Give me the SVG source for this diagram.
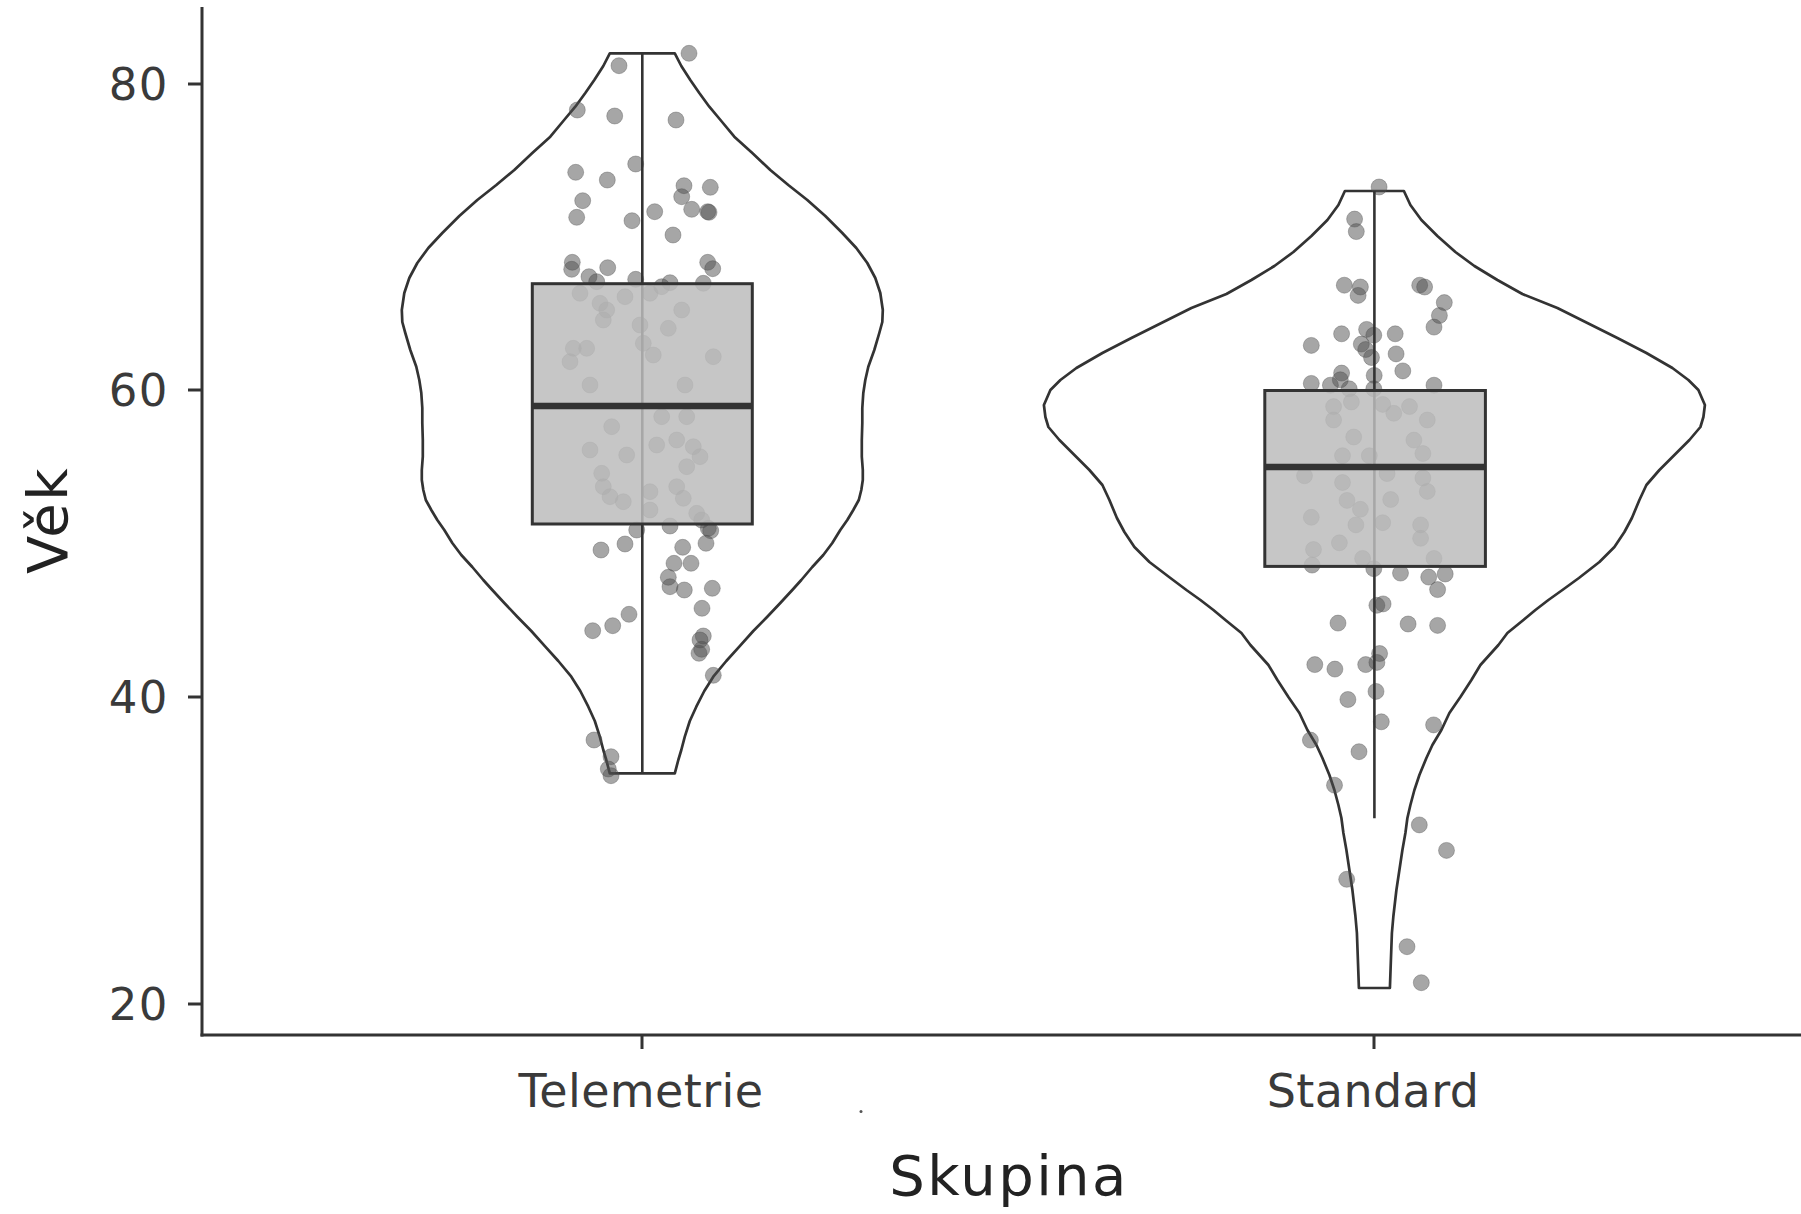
<svg xmlns="http://www.w3.org/2000/svg" width="1801" height="1214" viewBox="0 0 1801 1214">
<style>
.bg{fill:#ffffff}
.axis{stroke:#333;stroke-width:3;fill:none}
.violin{fill:#ffffff;stroke:#333;stroke-width:2.7;stroke-linejoin:round}
.whisk{stroke:#333;stroke-width:2.6}
.box{fill:#bcbcbc;fill-opacity:0.85;stroke:#333;stroke-width:3}
.median{stroke:#333;stroke-width:6.5}
.pt{fill:#4d4d4d;fill-opacity:0.5;stroke:#4d4d4d;stroke-opacity:0.35;stroke-width:1}
.tick{font-family:"DejaVu Sans","Liberation Sans",sans-serif;font-size:46px;letter-spacing:0.4px;fill:#3a3a3a}
.ytick{font-family:"DejaVu Sans","Liberation Sans",sans-serif;font-size:45px;letter-spacing:1.5px;fill:#3a3a3a}
.title{font-family:"DejaVu Sans","Liberation Sans",sans-serif;font-size:56px;letter-spacing:2.4px;fill:#222}
</style>
<rect class="bg" x="0" y="0" width="1801" height="1214"/>

<g id="axes">
<line class="axis" x1="202" y1="7" x2="202" y2="1036.5"/>
<line class="axis" x1="200.5" y1="1035" x2="1801" y2="1035"/>
<line class="axis" x1="188" y1="84" x2="202" y2="84"/>
<line class="axis" x1="188" y1="390" x2="202" y2="390"/>
<line class="axis" x1="188" y1="697" x2="202" y2="697"/>
<line class="axis" x1="188" y1="1004" x2="202" y2="1004"/>
<line class="axis" x1="642" y1="1035" x2="642" y2="1049"/>
<line class="axis" x1="1374" y1="1035" x2="1374" y2="1049"/>
<text class="ytick" x="169" y="100" text-anchor="end">80</text>
<text class="ytick" x="169" y="406" text-anchor="end">60</text>
<text class="ytick" x="169" y="713" text-anchor="end">40</text>
<text class="ytick" x="169" y="1020" text-anchor="end">20</text>
<text class="tick" x="641" y="1107" text-anchor="middle">Telemetrie</text>
<text class="tick" x="1373" y="1107" text-anchor="middle">Standard</text>
<text class="title" x="1009" y="1195" text-anchor="middle">Skupina</text>
<text class="title" transform="translate(67,520) rotate(-90)" text-anchor="middle">Věk</text>
<circle cx="861" cy="1111.5" r="1.5" fill="#555"/>
</g>

<g id="telemetrie">
<path class="violin" d="M609.8,53.3 L674.8,53.3 L681.3,66 L690.3,80 L699.3,93 L709.3,106.7 L721.3,121 L734.3,136.7 L752.3,153 L770.3,170 L788.3,185 L807.3,200 L825.3,216 L842.3,233 L856.3,248 L867.3,263 L875.3,278 L880.3,293 L882.8,310 L882.3,322 L879.3,333 L874.3,350 L868.3,366.7 L865.3,380 L863.3,393 L862.3,408 L862.3,423 L861.8,440 L861.8,456.7 L862.8,470 L862.8,480 L861.3,490 L858.8,500 L853.3,510 L847.3,520 L840.3,530 L832.3,543 L823.3,555 L812.3,567 L801.3,580 L792.3,590 L780.3,603 L767.3,616.7 L753.3,631 L739.3,646.7 L726.3,661 L713.3,676.7 L704.3,691 L696.3,706.7 L689.8,721 L684.8,736.7 L681.3,750 L678.3,760 L674.8,773.3 L609.8,773.3 L606.3,760 L603.3,750 L599.8,736.7 L594.8,721 L588.3,706.7 L580.3,691 L571.3,676.7 L558.3,661 L545.3,646.7 L531.3,631 L517.3,616.7 L504.3,603 L492.3,590 L483.3,580 L472.3,567 L461.3,555 L452.3,543 L444.3,530 L437.3,520 L431.3,510 L425.8,500 L423.3,490 L421.8,480 L421.8,470 L422.8,456.7 L422.8,440 L422.3,423 L422.3,408 L421.3,393 L419.3,380 L416.3,366.7 L410.3,350 L405.3,333 L402.3,322 L401.8,310 L404.3,293 L409.3,278 L417.3,263 L428.3,248 L442.3,233 L459.3,216 L477.3,200 L496.3,185 L514.3,170 L532.3,153 L550.3,136.7 L563.3,121 L575.3,106.7 L585.3,93 L594.3,80 L603.3,66 Z"/>
<g>
<circle class="pt" cx="689" cy="53.3" r="8"/>
<circle class="pt" cx="619" cy="65.7" r="8"/>
<circle class="pt" cx="577.3" cy="110" r="8"/>
<circle class="pt" cx="614.7" cy="116" r="8"/>
<circle class="pt" cx="676" cy="120" r="8"/>
<circle class="pt" cx="635.7" cy="164" r="8"/>
<circle class="pt" cx="575.7" cy="172.3" r="8"/>
<circle class="pt" cx="607.3" cy="180" r="8"/>
<circle class="pt" cx="684" cy="185.7" r="8"/>
<circle class="pt" cx="710.3" cy="187.3" r="8"/>
<circle class="pt" cx="681.7" cy="196.7" r="8"/>
<circle class="pt" cx="582.7" cy="200.7" r="8"/>
<circle class="pt" cx="654.7" cy="211.7" r="8"/>
<circle class="pt" cx="691.7" cy="209.3" r="8"/>
<circle class="pt" cx="709" cy="212.3" r="8"/>
<circle class="pt" cx="707.7" cy="211.7" r="8"/>
<circle class="pt" cx="576.7" cy="217.3" r="8"/>
<circle class="pt" cx="632" cy="220.7" r="8"/>
<circle class="pt" cx="673" cy="235" r="8"/>
<circle class="pt" cx="572.3" cy="262.3" r="8"/>
<circle class="pt" cx="571.7" cy="269.3" r="8"/>
<circle class="pt" cx="607.7" cy="267.7" r="8"/>
<circle class="pt" cx="707.7" cy="262.3" r="8"/>
<circle class="pt" cx="712.7" cy="268.7" r="8"/>
<circle class="pt" cx="589" cy="276.7" r="8"/>
<circle class="pt" cx="596.7" cy="281.7" r="8"/>
<circle class="pt" cx="635.7" cy="279.3" r="8"/>
<circle class="pt" cx="670" cy="282.7" r="8"/>
<circle class="pt" cx="703.3" cy="283.3" r="8"/>
<circle class="pt" cx="580" cy="293.3" r="8"/>
<circle class="pt" cx="600" cy="303.3" r="8"/>
<circle class="pt" cx="606.7" cy="310" r="8"/>
<circle class="pt" cx="603.3" cy="320" r="8"/>
<circle class="pt" cx="625" cy="296.7" r="8"/>
<circle class="pt" cx="650" cy="293.3" r="8"/>
<circle class="pt" cx="661.7" cy="286.7" r="8"/>
<circle class="pt" cx="681.7" cy="310" r="8"/>
<circle class="pt" cx="640" cy="325" r="8"/>
<circle class="pt" cx="668.3" cy="328.3" r="8"/>
<circle class="pt" cx="573.3" cy="348.3" r="8"/>
<circle class="pt" cx="586.7" cy="348.3" r="8"/>
<circle class="pt" cx="570" cy="361.7" r="8"/>
<circle class="pt" cx="643.3" cy="343.3" r="8"/>
<circle class="pt" cx="653.3" cy="355" r="8"/>
<circle class="pt" cx="713.3" cy="356.7" r="8"/>
<circle class="pt" cx="590" cy="385" r="8"/>
<circle class="pt" cx="685" cy="385" r="8"/>
<circle class="pt" cx="611.7" cy="426.7" r="8"/>
<circle class="pt" cx="661.7" cy="416.7" r="8"/>
<circle class="pt" cx="686.7" cy="416.7" r="8"/>
<circle class="pt" cx="590" cy="450" r="8"/>
<circle class="pt" cx="626.7" cy="455" r="8"/>
<circle class="pt" cx="656.7" cy="445" r="8"/>
<circle class="pt" cx="676.7" cy="440" r="8"/>
<circle class="pt" cx="693.3" cy="446.7" r="8"/>
<circle class="pt" cx="700" cy="456.7" r="8"/>
<circle class="pt" cx="601.7" cy="473.3" r="8"/>
<circle class="pt" cx="603.3" cy="486.7" r="8"/>
<circle class="pt" cx="610" cy="496.7" r="8"/>
<circle class="pt" cx="623.3" cy="501.7" r="8"/>
<circle class="pt" cx="650" cy="491.7" r="8"/>
<circle class="pt" cx="676.7" cy="486.7" r="8"/>
<circle class="pt" cx="683.3" cy="498.3" r="8"/>
<circle class="pt" cx="686.7" cy="466.7" r="8"/>
<circle class="pt" cx="650" cy="510" r="8"/>
<circle class="pt" cx="696.7" cy="513.3" r="8"/>
<circle class="pt" cx="701.7" cy="520" r="8"/>
<circle class="pt" cx="636.7" cy="530" r="8"/>
<circle class="pt" cx="670" cy="526" r="8"/>
<circle class="pt" cx="708.3" cy="528.3" r="8"/>
<circle class="pt" cx="710.7" cy="530.7" r="8"/>
<circle class="pt" cx="625" cy="544" r="8"/>
<circle class="pt" cx="601" cy="550" r="8"/>
<circle class="pt" cx="682.7" cy="547.3" r="8"/>
<circle class="pt" cx="706" cy="543.3" r="8"/>
<circle class="pt" cx="674" cy="563.3" r="8"/>
<circle class="pt" cx="691" cy="563.3" r="8"/>
<circle class="pt" cx="668.3" cy="577.3" r="8"/>
<circle class="pt" cx="670" cy="586.7" r="8"/>
<circle class="pt" cx="684.3" cy="590" r="8"/>
<circle class="pt" cx="712.3" cy="588.3" r="8"/>
<circle class="pt" cx="702" cy="608.3" r="8"/>
<circle class="pt" cx="629" cy="614.3" r="8"/>
<circle class="pt" cx="612.7" cy="625.7" r="8"/>
<circle class="pt" cx="592.7" cy="630.7" r="8"/>
<circle class="pt" cx="703.3" cy="636" r="8"/>
<circle class="pt" cx="700" cy="640" r="8"/>
<circle class="pt" cx="701.7" cy="649.3" r="8"/>
<circle class="pt" cx="699" cy="653.3" r="8"/>
<circle class="pt" cx="713.3" cy="675.3" r="8"/>
<circle class="pt" cx="594" cy="740" r="8"/>
<circle class="pt" cx="611" cy="756.7" r="8"/>
<circle class="pt" cx="608.3" cy="769" r="8"/>
<circle class="pt" cx="611" cy="775.7" r="8"/>
</g>
<line class="whisk" x1="642.3" y1="53.3" x2="642.3" y2="773.3"/>
<rect class="box" x="532.3" y="283.7" width="220" height="240.3"/>
<line class="median" x1="532.3" y1="406" x2="752.3" y2="406"/>
</g>

<g id="standard">
<path class="violin" d="M1344.9,191 L1403.9,191 L1410.4,205 L1421.4,220 L1437.4,236 L1455.4,252 L1474.4,266 L1497.4,280 L1522.4,294 L1557.4,308 L1587.4,323 L1617.4,338 L1646.4,353 L1672.4,368 L1688.4,380 L1698.4,390 L1704.9,405 L1703.4,417 L1700.4,427 L1689.4,440 L1671.4,458 L1659.4,470 L1646.4,485 L1639.4,500 L1631.9,518 L1624.4,532 L1614.4,547 L1599.4,562 L1578.9,578 L1562.4,590 L1548.4,600 L1535.4,610 L1523.4,620 L1507.4,633 L1498.4,645 L1480.4,665 L1471.4,680 L1460.4,697 L1449.4,713 L1441.4,730 L1432.4,745 L1426.4,758 L1419.4,775 L1414.4,790 L1410.4,805 L1407.4,818 L1405.4,833 L1402.4,850 L1399.4,870 L1396.4,890 L1393.4,916 L1391.9,933 L1390.9,960 L1389.9,988 L1358.9,988 L1357.9,960 L1356.9,933 L1355.4,916 L1352.4,890 L1349.4,870 L1346.4,850 L1343.4,833 L1341.4,818 L1338.4,805 L1334.4,790 L1329.4,775 L1322.4,758 L1316.4,745 L1307.4,730 L1299.4,713 L1288.4,697 L1277.4,680 L1268.4,665 L1250.4,645 L1241.4,633 L1225.4,620 L1213.4,610 L1200.4,600 L1186.4,590 L1170.4,578 L1149.4,562 L1134.4,547 L1124.4,532 L1116.9,518 L1109.4,500 L1102.4,485 L1089.4,470 L1077.4,458 L1059.4,440 L1048.4,427 L1045.4,417 L1043.9,405 L1050.4,390 L1060.4,380 L1076.4,368 L1102.4,353 L1131.4,338 L1161.4,323 L1191.4,308 L1226.4,294 L1251.4,280 L1274.4,266 L1293.4,252 L1311.4,236 L1327.4,220 L1338.4,205 Z"/>
<g>
<circle class="pt" cx="1379.1" cy="187" r="8"/>
<circle class="pt" cx="1354.6" cy="219.1" r="8"/>
<circle class="pt" cx="1356.3" cy="231.6" r="8"/>
<circle class="pt" cx="1344.3" cy="285.2" r="8"/>
<circle class="pt" cx="1360.4" cy="287" r="8"/>
<circle class="pt" cx="1358.1" cy="295.4" r="8"/>
<circle class="pt" cx="1419.7" cy="285.2" r="8"/>
<circle class="pt" cx="1424.6" cy="287" r="8"/>
<circle class="pt" cx="1444.3" cy="302.6" r="8"/>
<circle class="pt" cx="1439.4" cy="315.5" r="8"/>
<circle class="pt" cx="1434" cy="327.1" r="8"/>
<circle class="pt" cx="1341.6" cy="333.8" r="8"/>
<circle class="pt" cx="1366.6" cy="329.4" r="8"/>
<circle class="pt" cx="1373.8" cy="335.2" r="8"/>
<circle class="pt" cx="1395.2" cy="333.8" r="8"/>
<circle class="pt" cx="1311.3" cy="345.4" r="8"/>
<circle class="pt" cx="1361.3" cy="344.1" r="8"/>
<circle class="pt" cx="1365.7" cy="349.5" r="8"/>
<circle class="pt" cx="1371.5" cy="357.5" r="8"/>
<circle class="pt" cx="1396.1" cy="353.9" r="8"/>
<circle class="pt" cx="1402.8" cy="370.9" r="8"/>
<circle class="pt" cx="1341.6" cy="373.1" r="8"/>
<circle class="pt" cx="1340.3" cy="379.8" r="8"/>
<circle class="pt" cx="1374.2" cy="375.4" r="8"/>
<circle class="pt" cx="1311.3" cy="383.4" r="8"/>
<circle class="pt" cx="1330.4" cy="385.2" r="8"/>
<circle class="pt" cx="1349.2" cy="388.8" r="8"/>
<circle class="pt" cx="1434" cy="385.2" r="8"/>
<circle class="pt" cx="1373.8" cy="388.8" r="8"/>
<circle class="pt" cx="1333.6" cy="406.6" r="8"/>
<circle class="pt" cx="1333.6" cy="420" r="8"/>
<circle class="pt" cx="1351.4" cy="402" r="8"/>
<circle class="pt" cx="1382.7" cy="404.4" r="8"/>
<circle class="pt" cx="1393.8" cy="413.3" r="8"/>
<circle class="pt" cx="1409.5" cy="406.6" r="8"/>
<circle class="pt" cx="1427.3" cy="420" r="8"/>
<circle class="pt" cx="1353.7" cy="437" r="8"/>
<circle class="pt" cx="1342.5" cy="455.7" r="8"/>
<circle class="pt" cx="1369.3" cy="455.7" r="8"/>
<circle class="pt" cx="1413.9" cy="440.1" r="8"/>
<circle class="pt" cx="1422.9" cy="453.5" r="8"/>
<circle class="pt" cx="1304.5" cy="475.8" r="8"/>
<circle class="pt" cx="1342.5" cy="482.5" r="8"/>
<circle class="pt" cx="1387.1" cy="473.6" r="8"/>
<circle class="pt" cx="1422.9" cy="478" r="8"/>
<circle class="pt" cx="1427.3" cy="491.4" r="8"/>
<circle class="pt" cx="1347" cy="500.4" r="8"/>
<circle class="pt" cx="1390.7" cy="499.5" r="8"/>
<circle class="pt" cx="1360.4" cy="509.3" r="8"/>
<circle class="pt" cx="1311.3" cy="517.3" r="8"/>
<circle class="pt" cx="1355.9" cy="524.9" r="8"/>
<circle class="pt" cx="1382.7" cy="522.7" r="8"/>
<circle class="pt" cx="1420.6" cy="524.9" r="8"/>
<circle class="pt" cx="1420.6" cy="538.3" r="8"/>
<circle class="pt" cx="1339.4" cy="542.8" r="8"/>
<circle class="pt" cx="1313.5" cy="549.5" r="8"/>
<circle class="pt" cx="1362.6" cy="558.4" r="8"/>
<circle class="pt" cx="1434" cy="558.4" r="8"/>
<circle class="pt" cx="1312.1" cy="565.1" r="8"/>
<circle class="pt" cx="1373.8" cy="568.7" r="8"/>
<circle class="pt" cx="1400.5" cy="573.1" r="8"/>
<circle class="pt" cx="1428.7" cy="577.1" r="8"/>
<circle class="pt" cx="1445.2" cy="574" r="8"/>
<circle class="pt" cx="1437.6" cy="589.6" r="8"/>
<circle class="pt" cx="1376.9" cy="605.3" r="8"/>
<circle class="pt" cx="1383.1" cy="603.9" r="8"/>
<circle class="pt" cx="1338" cy="623.1" r="8"/>
<circle class="pt" cx="1408.1" cy="624" r="8"/>
<circle class="pt" cx="1437.6" cy="625.4" r="8"/>
<circle class="pt" cx="1379.6" cy="653.5" r="8"/>
<circle class="pt" cx="1314.8" cy="664.6" r="8"/>
<circle class="pt" cx="1334.9" cy="669.1" r="8"/>
<circle class="pt" cx="1365.7" cy="664.6" r="8"/>
<circle class="pt" cx="1376.9" cy="662.4" r="8"/>
<circle class="pt" cx="1376" cy="691.4" r="8"/>
<circle class="pt" cx="1347.9" cy="699.5" r="8"/>
<circle class="pt" cx="1381.3" cy="721.8" r="8"/>
<circle class="pt" cx="1433.6" cy="724.9" r="8"/>
<circle class="pt" cx="1310.4" cy="740.1" r="8"/>
<circle class="pt" cx="1359" cy="751.7" r="8"/>
<circle class="pt" cx="1334.5" cy="785.2" r="8"/>
<circle class="pt" cx="1419.3" cy="824.9" r="8"/>
<circle class="pt" cx="1446.5" cy="850.4" r="8"/>
<circle class="pt" cx="1346.7" cy="879.3" r="8"/>
<circle class="pt" cx="1407" cy="946.7" r="8"/>
<circle class="pt" cx="1421.3" cy="982.7" r="8"/>
</g>
<line class="whisk" x1="1374.4" y1="191" x2="1374.4" y2="818.2"/>
<rect class="box" x="1264.8" y="390.5" width="220.6" height="175.9"/>
<line class="median" x1="1264.8" y1="466.9" x2="1485.4" y2="466.9"/>
</g>
</svg>
